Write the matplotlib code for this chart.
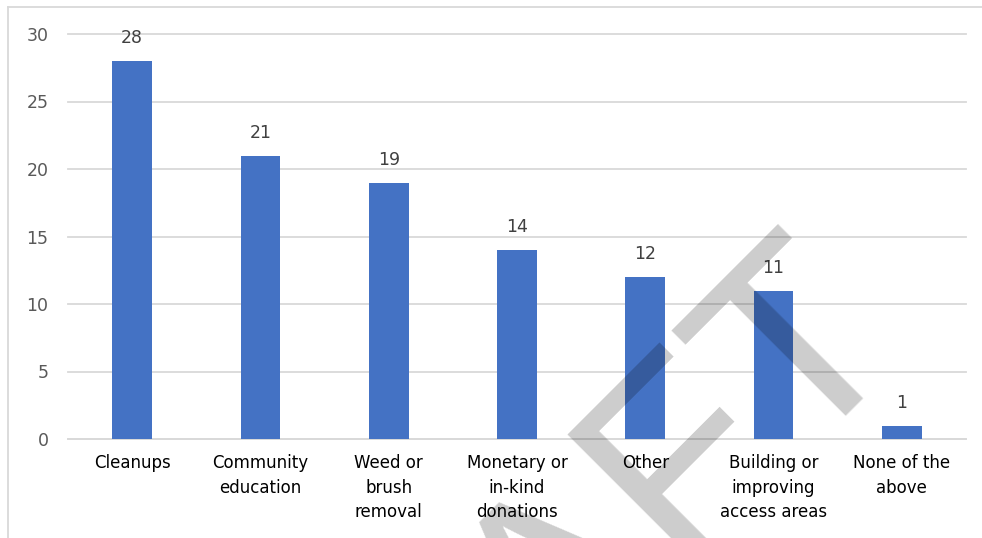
import numpy as np
import matplotlib
matplotlib.use("Agg")
import matplotlib.pyplot as plt
from matplotlib.lines import Line2D

categories = ["Cleanups", "Community\neducation", "Weed or\nbrush\nremoval",
              "Monetary or\nin-kind\ndonations", "Other", "Building or\nimproving\naccess areas",
              "None of the\nabove"]
counts = [28, 21, 19, 14, 12, 11, 1]
yticks = [0, 5, 10, 15, 20, 25, 30]

plt.rcParams['font.family'] = ['DejaVu Sans']

fig = plt.figure(figsize=(9.82, 5.38), dpi=100)
ax = fig.add_axes([68/982, 1-439/538, (966-68)/982, (439-34)/538])

x = np.arange(len(categories))
bars = ax.bar(x, counts, width=0.31, color='#4472C4', zorder=3)
for xi, v in zip(x, counts):
    ax.annotate(str(v), (xi, v), xytext=(0, 10), textcoords='offset points',
                ha='center', va='bottom', fontsize=12.5, color='#404040')

ax.set_xlim(-0.5, len(categories)-0.5)
ax.set_ylim(0, 30)
ax.set_yticks(yticks)
ax.set_xticks(x)
ax.set_xticklabels(categories, fontsize=12, color='#000000', linespacing=1.45)
ax.tick_params(axis='y', labelsize=12.5, labelcolor='#595959', length=0, pad=14)
ax.tick_params(axis='x', length=0, pad=11)
ax.grid(axis='y', color='#D9D9D9', linewidth=1.3, zorder=0)
for gl in ax.get_ygridlines():
    gl.set_clip_on(False)
for s in ['top', 'right', 'left']:
    ax.spines[s].set_visible(False)
ax.spines['bottom'].set_color('#D9D9D9')
ax.spines['bottom'].set_linewidth(1.3)

# chart border (cropped at right and bottom)
fig.add_artist(Line2D([7.5/982, 7.5/982], [0, 1-6.5/538], transform=fig.transFigure,
                      color='#D9D9D9', linewidth=1.3))
fig.add_artist(Line2D([7.5/982, 1], [1-6.5/538, 1-6.5/538], transform=fig.transFigure,
                      color='#D9D9D9', linewidth=1.3))

# draft watermark
fig.text(907/982, 1-334/538, "DRAFT", fontsize=192, family='Liberation Sans',
         rotation=45, rotation_mode='anchor', ha='right', va='baseline',
         color='black', alpha=0.2, zorder=10)

fig.savefig("out.png", dpi=100)
